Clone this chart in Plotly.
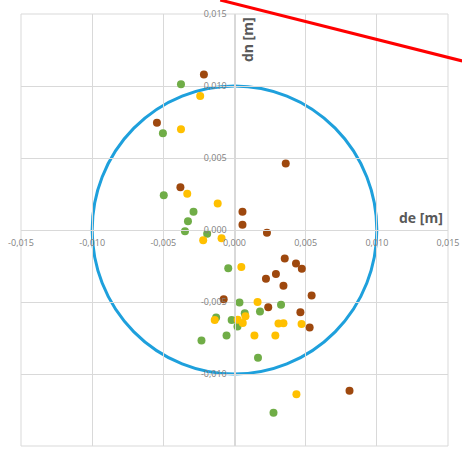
import plotly.graph_objects as go

# Data (metres)
brown_de = [-0.00215, -0.00545, 0.00360, -0.00380, 0.00056, 0.00056, 0.00228, 0.00353, 0.00432, 0.00473,
            0.00291, 0.00221, 0.00344, 0.00542, -0.00076, 0.00237, 0.00463, 0.00528, 0.00808]
brown_dn = [0.01079, 0.00745, 0.00462, 0.00297, 0.00127, 0.00036, -0.00019, -0.00198, -0.00233, -0.00269,
            -0.00306, -0.00338, -0.00387, -0.00455, -0.00481, -0.00537, -0.00571, -0.00677, -0.01116]

green_de = [-0.00376, -0.00503, -0.00497, -0.00288, -0.00327, -0.00348, -0.00192, -0.00044, 0.00035, 0.00327,
            0.00072, 0.00179, -0.00129, -0.00020, 0.00021, -0.00056, -0.00232, 0.00165, 0.00274]
green_dn = [0.01012, 0.00672, 0.00241, 0.00126, 0.00060, -0.00009, -0.00026, -0.00265, -0.00503, -0.00519,
            -0.00578, -0.00566, -0.00608, -0.00625, -0.00670, -0.00733, -0.00767, -0.00887, -0.01269]

yellow_de = [-0.00241, -0.00376, -0.00332, -0.00118, -0.00220, -0.00091, 0.00048, 0.00162, 0.00077, -0.00139,
             0.00023, 0.00058, 0.00309, 0.00344, 0.00471, 0.00140, 0.00287, 0.00435]
yellow_dn = [0.00931, 0.00699, 0.00251, 0.00184, -0.00072, -0.00058, -0.00257, -0.00500, -0.00599, -0.00625,
             -0.00623, -0.00646, -0.00649, -0.00647, -0.00653, -0.00733, -0.00733, -0.01141]

tick_vals = [-0.015, -0.010, -0.005, 0.0, 0.005, 0.010, 0.015]
x_tick_text = ["-0,015", "-0,010", "-0,005", "0,000", "0,005", "0,010", "0,015"]
y_tick_text = ["-0,015", "-0,010", "-0,005", "0,000", "0,005", "0,010", "0,015"]

circle_radius = 0.010
red_line_de = [-0.0010, 0.0160]
red_line_dn = [0.01597, 0.01174]

axis_min, axis_max = -0.015, 0.015

fig = go.Figure()
for xs, ys, col in [(brown_de, brown_dn, "#9E480E"),
                    (green_de, green_dn, "#70AD47"),
                    (yellow_de, yellow_dn, "#FFC000")]:
    fig.add_trace(go.Scatter(x=xs, y=ys, mode="markers",
                             marker=dict(size=8, color=col, line=dict(width=0)),
                             showlegend=False, cliponaxis=False))

grid = "#D9D9D9"
tickfont = dict(family="Open Sans, Liberation Sans, sans-serif", size=9, color="#7F7F7F")
common = dict(range=[axis_min, axis_max], tickvals=tick_vals, showgrid=True, gridcolor=grid,
              gridwidth=1, zeroline=False, showline=True, linecolor=grid, linewidth=1,
              ticks="", tickfont=tickfont, anchor="free", position=0.5, fixedrange=True)
fig.update_xaxes(**common, ticktext=x_tick_text, ticklabelstandoff=4)
fig.update_yaxes(**common, ticktext=y_tick_text, ticklabelstandoff=6)

def px(v):
    return (v - axis_min) / (axis_max - axis_min)

fig.add_shape(type="rect", xref="paper", yref="paper", x0=0, y0=0, x1=1, y1=1,
              line=dict(color=grid, width=1), layer="below")
fig.add_shape(type="circle", xref="x", yref="y",
              x0=-circle_radius, y0=-circle_radius, x1=circle_radius, y1=circle_radius,
              line=dict(color="#1EA0DC", width=3), layer="below")
fig.add_shape(type="line", xref="paper", yref="paper",
              x0=px(red_line_de[0]), y0=px(red_line_dn[0]),
              x1=px(red_line_de[1]), y1=px(red_line_dn[1]),
              line=dict(color="#FF0000", width=3))

titlefont = dict(family="Open Sans, Liberation Sans, sans-serif", size=14, color="#595959")
fig.add_annotation(text="<b>dn [m]</b>", xref="paper", yref="paper", x=0.532, y=0.94,
                   xanchor="center", yanchor="middle",
                   textangle=-90, showarrow=False, font=titlefont)
fig.add_annotation(text="<b>de [m]</b>", xref="paper", yref="paper", x=0.936, y=0.528,
                   xanchor="center", yanchor="middle",
                   showarrow=False, font=titlefont)

fig.update_layout(width=462, height=449, margin=dict(l=21, r=14, t=14, b=3),
                  paper_bgcolor="white", plot_bgcolor="white", showlegend=False)
fig.write_html("out.html", config={"displayModeBar": False},
               post_script="document.body.style.margin='0';")
